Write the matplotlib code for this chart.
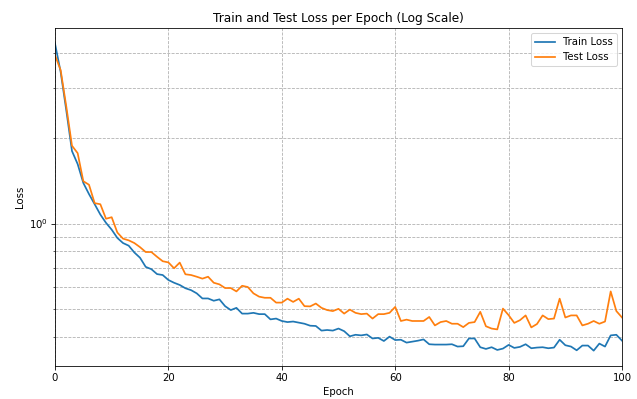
import matplotlib
matplotlib.use("Agg")
import matplotlib.pyplot as plt
import numpy as np

epochs = list(range(0, 101))

train_loss = [
    4.31, 3.42, 2.50, 1.80, 1.62, 1.39, 1.27, 1.17, 1.076, 1.006,
    0.952, 0.89, 0.854, 0.836, 0.791, 0.758, 0.704, 0.691, 0.664, 0.659,
    0.633, 0.619, 0.608, 0.592, 0.583, 0.568, 0.545, 0.545, 0.535, 0.541,
    0.512, 0.496, 0.505, 0.482, 0.482, 0.485, 0.48, 0.48, 0.46, 0.463,
    0.454, 0.45, 0.452, 0.448, 0.444, 0.437, 0.436, 0.42, 0.422, 0.42,
    0.427, 0.418, 0.401, 0.406, 0.404, 0.407, 0.394, 0.396, 0.386, 0.40,
    0.389, 0.39, 0.381, 0.384, 0.387, 0.391, 0.376, 0.375, 0.375, 0.375,
    0.376, 0.369, 0.37, 0.394, 0.394, 0.367, 0.362, 0.367, 0.359, 0.363,
    0.374, 0.365, 0.368, 0.376, 0.364, 0.366, 0.367, 0.364, 0.366, 0.390,
    0.373, 0.369, 0.358, 0.372, 0.372, 0.357, 0.378, 0.369, 0.404, 0.406,
    0.387,
]

test_loss = [
    3.92, 3.47, 2.58, 1.88, 1.77, 1.41, 1.37, 1.18, 1.17, 1.04,
    1.053, 0.93, 0.885, 0.873, 0.854, 0.826, 0.794, 0.794, 0.764, 0.737,
    0.730, 0.696, 0.729, 0.663, 0.659, 0.650, 0.640, 0.650, 0.619, 0.611,
    0.593, 0.593, 0.577, 0.604, 0.598, 0.568, 0.553, 0.548, 0.548, 0.527,
    0.527, 0.544, 0.530, 0.544, 0.512, 0.511, 0.523, 0.505, 0.496, 0.492,
    0.501, 0.482, 0.498, 0.485, 0.48, 0.482, 0.463, 0.48, 0.48, 0.485,
    0.509, 0.454, 0.459, 0.454, 0.454, 0.454, 0.469, 0.438, 0.45, 0.454,
    0.444, 0.444, 0.432, 0.447, 0.45, 0.489, 0.435, 0.427, 0.424, 0.502,
    0.476, 0.447, 0.457, 0.475, 0.431, 0.443, 0.475, 0.461, 0.463, 0.544,
    0.467, 0.475, 0.475, 0.438, 0.444, 0.454, 0.444, 0.452, 0.577, 0.492,
    0.467,
]

dpi = 73
fig = plt.figure(figsize=(637 / dpi, 399 / dpi), dpi=dpi)
ax = fig.add_subplot(111)
fig.subplots_adjust(left=0.0863, right=0.9765, top=0.9298, bottom=0.0827)

ax.plot(epochs, train_loss, label="Train Loss", color="#1f77b4", linewidth=1.7)
ax.plot(epochs, test_loss, label="Test Loss", color="#ff7f0e", linewidth=1.7)
ax.set_yscale("log")
ax.set_xlim(0, 100)
ax.set_title("Train and Test Loss per Epoch (Log Scale)")
ax.set_xlabel("Epoch")
ax.set_ylabel("Loss")
ax.grid(True, which="both", linestyle="--")
ax.legend(loc="upper right")

fig.savefig("out.png", dpi=dpi)
